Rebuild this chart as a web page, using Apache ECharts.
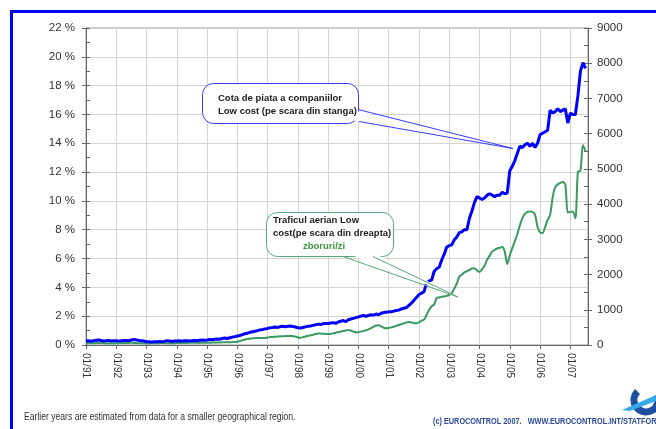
<!DOCTYPE html>
<html>
<head>
<meta charset="utf-8">
<script src="https://cdn.jsdelivr.net/npm/echarts@6/dist/echarts.min.js"></script>
<style>
html,body{margin:0;padding:0;background:#fff;}
#c{width:656px;height:429px;}
</style>
</head>
<body>
<div id="c"></div>
<script>
// ---- Data ----
var years = ['91','92','93','94','95','96','97','98','99','00','01','02','03','04','05','06','07'];
var monthNames = ['01','02','03','04','05','06','07','08','09','10','11','12'];
var leftTicks = [0,2,4,6,8,10,12,14,16,18,20,22];
var rightTicks = [0,1000,2000,3000,4000,5000,6000,7000,8000,9000];

// Low-cost market share (%), monthly, left axis
var share1991 = [0.28,0.30,0.26,0.30,0.33,0.35,0.31,0.27,0.30,0.32,0.28,0.30];
var share1992 = [0.30,0.27,0.30,0.31,0.32,0.30,0.35,0.38,0.35,0.32,0.30,0.28];
var share1993 = [0.22,0.22,0.20,0.22,0.22,0.25,0.22,0.25,0.30,0.28,0.25,0.27];
var share1994 = [0.28,0.30,0.27,0.30,0.30,0.28,0.30,0.32,0.30,0.33,0.35,0.33];
var share1995 = [0.35,0.38,0.36,0.40,0.42,0.40,0.45,0.48,0.45,0.50,0.55,0.58];
var share1996 = [0.62,0.66,0.72,0.78,0.82,0.88,0.92,0.96,1.00,1.05,1.08,1.12];
var share1997 = [1.15,1.20,1.22,1.25,1.22,1.28,1.30,1.27,1.30,1.32,1.28,1.25];
var share1998 = [1.20,1.18,1.22,1.26,1.30,1.32,1.36,1.40,1.45,1.42,1.48,1.50];
var share1999 = [1.50,1.52,1.55,1.50,1.60,1.65,1.70,1.62,1.75,1.80,1.85,1.90];
var share2000 = [1.95,2.00,2.05,1.98,2.05,2.10,2.08,2.15,2.10,2.20,2.25,2.28];
var share2001 = [2.30,2.30,2.35,2.40,2.42,2.50,2.55,2.60,2.75,2.90,3.10,3.30];
var share2002 = [3.50,3.60,3.70,4.30,4.45,4.50,5.10,5.30,5.40,5.90,6.30,6.80];
var share2003 = [6.90,6.95,7.30,7.50,7.80,7.85,8.00,8.00,8.80,9.30,9.90,10.30];
var share2004 = [10.20,10.10,10.20,10.40,10.50,10.40,10.30,10.40,10.40,10.60,10.50,10.55];
var share2005 = [12.10,12.40,12.80,13.30,13.80,13.70,13.90,14.00,13.80,14.00,13.70,14.00];
var share2006 = [14.60,14.70,14.80,14.90,16.30,16.10,16.20,16.40,16.20,16.30,16.40,15.40];
var share2007 = [16.10,16.00,16.00,17.30,19.00,19.60,19.20];

// Low-cost flights per day, monthly, right axis
var flights1991 = [50,52,55,50,55,58,60,55,50,52,50,48];
var flights1992 = [50,52,55,55,58,60,62,60,55,52,50,50];
var flights1993 = [45,45,48,50,50,52,55,55,52,50,50,52];
var flights1994 = [55,55,58,60,60,62,65,65,62,60,62,65];
var flights1995 = [65,66,68,70,70,72,75,75,78,80,82,85];
var flights1996 = [95,115,135,155,170,180,190,195,200,200,198,200];
var flights1997 = [210,225,230,235,240,245,250,252,255,258,250,240];
var flights1998 = [215,205,220,240,260,275,290,310,330,325,320,315];
var flights1999 = [310,315,330,350,365,380,395,410,425,410,380,360];
var flights2000 = [365,380,400,420,445,480,520,555,560,530,490,475];
var flights2001 = [480,500,520,545,570,590,615,640,655,640,625,620];
var flights2002 = [640,690,720,850,1000,1100,1150,1330,1350,1370,1380,1395];
var flights2003 = [1420,1476,1600,1750,1940,2000,2060,2100,2130,2170,2180,2120];
var flights2004 = [2075,2150,2250,2420,2530,2650,2700,2740,2760,2780,2650,2300];
var flights2005 = [2550,2750,2950,3150,3400,3600,3720,3780,3790,3780,3700,3350];
var flights2006 = [3200,3180,3350,3550,3700,4200,4480,4560,4600,4630,4550,3760];
var flights2007 = [3780,3780,3600,4920,4950,5680,5500];

var shareData = [].concat(share1991,share1992,share1993,share1994,share1995,share1996,share1997,share1998,share1999,share2000,share2001,share2002,share2003,share2004,share2005,share2006,share2007);
var flightsData = [].concat(flights1991,flights1992,flights1993,flights1994,flights1995,flights1996,flights1997,flights1998,flights1999,flights2000,flights2001,flights2002,flights2003,flights2004,flights2005,flights2006,flights2007);

// category labels: Jan 1991 .. Aug 2007
var categories = [];
years.forEach(function(y){ monthNames.forEach(function(m){ if (categories.length < 200) categories.push(m + '/' + y); }); });

var chart = echarts.init(document.getElementById('c'), null, {renderer:'canvas'});
var FONT = '"Liberation Sans", Arial, sans-serif';
var axisCol = '#666';
var gridCol = '#d4d4d4';

var option = {
  animation: false,
  backgroundColor: '#fff',
  grid: {left: 86, right: 68, top: 28, bottom: 84, show: true, borderColor: '#999', borderWidth: 1},
  xAxis: {
    type: 'category', data: categories, boundaryGap: false,
    axisLine: {lineStyle: {color: axisCol, width: 1}},
    axisTick: {interval: 11, length: 4, lineStyle: {color: axisCol}},
    axisLabel: {interval: 11, rotate: -90, margin: 8, color: '#333', fontSize: 10, fontFamily: FONT},
    splitLine: {show: true, interval: 11, lineStyle: {color: gridCol, width: 1}}
  },
  yAxis: [
    {type: 'value', min: 0, max: 22, interval: 2, position: 'left',
     axisLine: {show: true, lineStyle: {color: axisCol}},
     axisTick: {show: true, length: 4, lineStyle: {color: axisCol}},
     axisLabel: {margin: 11, color: '#333', fontSize: 11.5, fontFamily: FONT,
       formatter: function(v){ return leftTicks.indexOf(v) >= 0 ? v + ' %' : ''; }},
     splitLine: {show: true, lineStyle: {color: gridCol, width: 1}}},
    {type: 'value', min: 0, max: 9000, interval: 1000, position: 'right',
     axisLine: {show: true, lineStyle: {color: axisCol}},
     axisTick: {show: true, length: 4, lineStyle: {color: axisCol}},
     axisLabel: {margin: 9, color: '#333', fontSize: 11.5, fontFamily: FONT,
       formatter: function(v){ return rightTicks.indexOf(v) >= 0 ? String(v) : ''; }},
     splitLine: {show: false}},
    {type: 'value', min: 0, max: 22, interval: 1, position: 'left',
     axisLine: {show: false}, axisLabel: {show: false}, splitLine: {show: false},
     axisTick: {show: true, inside: true, length: 4, lineStyle: {color: axisCol}}},
    {type: 'value', min: 0, max: 9000, interval: 500, position: 'right',
     axisLine: {show: false}, axisLabel: {show: false}, splitLine: {show: false},
     axisTick: {show: true, inside: true, length: 4, lineStyle: {color: axisCol}}}
  ],
  series: [
    {name: 'Trafic', type: 'line', yAxisIndex: 1, data: flightsData, showSymbol: false, smooth: 0.3,
     lineStyle: {color: '#3a9a62', width: 2}, z: 3},
    {name: 'Cota', type: 'line', yAxisIndex: 0, data: shareData, showSymbol: false,
     lineStyle: {color: '#0000ff', width: 3}, z: 4}
  ],
  graphic: [
    // blue frame
    {type: 'line', shape: {x1: 11.5, y1: 10, x2: 11.5, y2: 429}, style: {stroke: '#0000ff', lineWidth: 3}, z: 200},
    {type: 'line', shape: {x1: 10, y1: 11.5, x2: 656, y2: 11.5}, style: {stroke: '#0000ff', lineWidth: 3}, z: 200},
    // blue callout
    {type: 'rect', shape: {x: 202.5, y: 83.5, width: 156, height: 40, r: 11}, style: {fill: '#fff', stroke: '#3a3aff', lineWidth: 1}, z: 100},
    {type: 'polygon', shape: {points: [[352, 110], [513, 148], [352, 120]]}, style: {fill: '#fff'}, z: 101},
    {type: 'polyline', shape: {points: [[358, 109.5], [513, 148.5], [359, 121.5]]}, style: {stroke: '#3a3aff', lineWidth: 1, fill: null}, z: 102},
    {type: 'text', style: {text: 'Cota de piata a companiilor', x: 218, y: 98, font: 'bold 9.5px ' + FONT, fill: '#222', verticalAlign: 'middle'}, z: 103},
    {type: 'text', style: {text: 'Low cost (pe scara din stanga)', x: 218, y: 111, font: 'bold 9.5px ' + FONT, fill: '#222', verticalAlign: 'middle'}, z: 103},
    // green callout
    {type: 'rect', shape: {x: 266.5, y: 212.5, width: 127, height: 44, r: 11}, style: {fill: '#fff', stroke: '#5aa77a', lineWidth: 1}, z: 100},
    {type: 'polygon', shape: {points: [[344, 252], [458, 297], [372, 252]]}, style: {fill: '#fff'}, z: 101},
    {type: 'polyline', shape: {points: [[343, 256.5], [458, 297], [373, 256.5]]}, style: {stroke: '#5aa77a', lineWidth: 1, fill: null}, z: 102},
    {type: 'text', style: {text: 'Traficul aerian Low', x: 273, y: 220, font: 'bold 9.5px ' + FONT, fill: '#222', verticalAlign: 'middle'}, z: 103},
    {type: 'text', style: {text: 'cost(pe scara din dreapta)', x: 273, y: 233, font: 'bold 9.5px ' + FONT, fill: '#222', verticalAlign: 'middle'}, z: 103},
    {type: 'text', style: {text: 'zboruri/zi', x: 303, y: 246, font: 'bold 9.5px ' + FONT, fill: '#3a9a3a', verticalAlign: 'middle'}, z: 103},
    // footer
    {type: 'text', x: 24, y: 417, scaleX: 0.86,
     style: {text: 'Earlier years are estimated from data for a smaller geographical region.', x: 0, y: 0,
      font: '10px ' + FONT, fill: '#333', verticalAlign: 'middle'}, z: 103},
    {type: 'text', x: 433, y: 422, scaleX: 0.86,
     style: {text: '(c) EUROCONTROL 2007.   WWW.EUROCONTROL.INT/STATFOR', x: 0, y: 0,
      font: 'bold 8.5px ' + FONT, fill: '#2a4a9a', verticalAlign: 'middle'}, z: 103},
    // logo approximation
    {type: 'arc', shape: {cx: 646, cy: 400, r: 12, startAngle: -Math.PI * 0.15, endAngle: Math.PI * 1.25}, style: {stroke: '#1d4f9e', lineWidth: 7, fill: null}, z: 103},
    {type: 'polygon', shape: {points: [[622, 410], [656, 395], [656, 401], [630, 411]]}, style: {fill: '#38a8e8'}, z: 104}
  ]
};
chart.setOption(option);
</script>
</body>
</html>
